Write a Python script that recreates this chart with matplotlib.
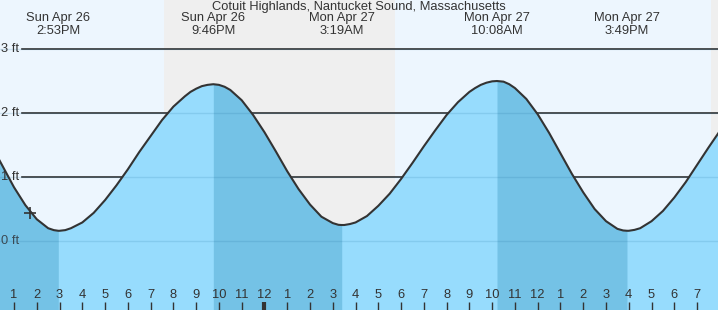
import numpy as np
import matplotlib
matplotlib.use("Agg")
import matplotlib.pyplot as plt
import matplotlib.transforms as mtransforms

plt.rcParams['font.family'] = ['Liberation Sans', 'DejaVu Sans']

# Tide height (ft), time in hours from midnight Sun Apr 26
hours = [12.0, 12.5, 13.0, 13.5, 14.0, 14.5, 14.75, 14.945, 15.0, 15.25, 15.5, 16.0, 16.5,
         17.0, 17.5, 18.0, 18.5, 19.0, 19.5, 20.0, 20.5, 20.75, 21.0, 21.25, 21.5, 21.753,
         22.0, 22.25, 22.5, 23.0, 23.5, 24.0, 24.5, 25.0, 25.5, 26.0, 26.5, 27.0, 27.25,
         27.392, 27.5, 27.75, 28.0, 28.5, 29.0, 29.5, 30.0, 30.5, 31.0, 31.5, 32.0, 32.5,
         33.0, 33.25, 33.5, 33.75, 34.0, 34.212, 34.5, 34.75, 35.0, 35.5, 36.0, 36.5, 37.0,
         37.5, 38.0, 38.5, 39.0, 39.5, 39.75, 39.92, 40.0, 40.25, 40.5, 41.0, 41.5, 42.0,
         42.5, 43.0, 43.5, 44.0]
heights = [1.50, 1.17, 0.84, 0.56, 0.34, 0.20, 0.17, 0.16, 0.16, 0.17, 0.20, 0.29, 0.44,
           0.64, 0.87, 1.12, 1.39, 1.64, 1.89, 2.10, 2.26, 2.33, 2.38, 2.42, 2.44, 2.45,
           2.44, 2.41, 2.36, 2.20, 1.97, 1.70, 1.40, 1.09, 0.81, 0.57, 0.38, 0.28, 0.253,
           0.25, 0.25, 0.265, 0.29, 0.39, 0.55, 0.74, 0.97, 1.22, 1.48, 1.73, 1.97, 2.17,
           2.33, 2.39, 2.44, 2.474, 2.495, 2.50, 2.49, 2.45, 2.39, 2.22, 1.98, 1.69, 1.37,
           1.05, 0.76, 0.50, 0.31, 0.19, 0.165, 0.16, 0.16, 0.174, 0.20, 0.31, 0.47, 0.68,
           0.92, 1.19, 1.46, 1.72]

# high/low tides
ext_times = [14.945, 21.753, 27.392, 34.212, 39.92]
ext_kind = ["L", "H", "L", "H", "L"]
ext_day = ["Sun Apr 26", "Sun Apr 26", "Mon Apr 27", "Mon Apr 27", "Mon Apr 27"]
ext_clock = ["2:53PM", "9:46PM", "3:19AM", "10:08AM", "3:49PM"]

# night periods (sunset -> sunrise)
night_spans = [(19.59, 29.72), (43.61, 44.5)]

tick_hours = list(range(13, 44))
tick_labels = [str(h) for h in list(range(1, 13)) + list(range(1, 13)) + list(range(1, 8))]
midnight = 24

now_t, now_h = 13.703, 0.44
ft_levels = [0, 1, 2, 3]

t = np.array(hours)
h = np.array(heights)

fig = plt.figure(figsize=(7.18, 3.10), dpi=100)
ax = fig.add_axes([0, 0, 1, 1])
ax.set_xlim(12.385, 43.918)
ax.set_ylim(-1.078, 3.766)
ax.axis("off")

day_col = "#edf6fe"
night_col = "#efefef"
light_water = "#97dcfd"
dark_water = "#74c2e6"
txt = "#333333"
fs = 9.3

ax.axvspan(11, 45, color=day_col, zorder=0, lw=0)
for a, b in night_spans:
    ax.axvspan(a, b, color=night_col, zorder=0.5, lw=0)

# dark grid lines (hidden by water)
for lv in ft_levels[1:]:
    ax.plot([13.35, 45], [lv, lv], color=txt, lw=1.2, zorder=1)
for lv in ft_levels:
    ax.text(12.45, lv, f"{lv} ft", color=txt if lv else "#3a4a55", fontsize=fs,
            va="center", ha="left", zorder=7)

# water: flood light, ebb dark
ax.fill_between(t, -2, h, color=light_water, lw=0, zorder=2)
bounds = [12.0] + ext_times + [44.0]
kinds = ["H"] + ext_kind
for i in range(len(bounds) - 1):
    if kinds[i] == "H":
        m = (t >= bounds[i]) & (t <= bounds[i + 1])
        ax.fill_between(t[m], -2, h[m], color=dark_water, lw=0, zorder=2.1)

for lv in ft_levels:
    ax.axhline(lv, color="#1a6a9a", lw=1, alpha=0.15, zorder=3)

ax.plot(t, h, color=txt, lw=1.5, zorder=5)
ax.plot(now_t, now_h, marker="+", ms=9, mew=1.2, color=txt, zorder=6)

# hour ticks along bottom
trans = mtransforms.blended_transform_factory(ax.transData, ax.transAxes)
for x, lab in zip(tick_hours, tick_labels):
    lw = 3 if x == midnight else 1
    ax.plot([x, x], [0, 0.027], color=txt, lw=lw, transform=trans, zorder=6,
            solid_capstyle="butt")
    ax.text(x, 0.048, lab, color=txt, fontsize=fs, ha="center", va="center",
            transform=trans, zorder=6)

# high/low annotations
for x, d, c in zip(ext_times, ext_day, ext_clock):
    ax.text(x, 1 - 18 / 310, d, color=txt, fontsize=fs, ha="center", va="center",
            transform=trans, zorder=6)
    ax.text(x, 1 - 31 / 310, c, color=txt, fontsize=fs, ha="center", va="center",
            transform=trans, zorder=6)

ax.text(0.5, 1 - 7 / 310, "Cotuit Highlands, Nantucket Sound, Massachusetts", color=txt,
        fontsize=fs, ha="center", va="center", transform=ax.transAxes, zorder=6)

fig.savefig("out.png", dpi=100)
